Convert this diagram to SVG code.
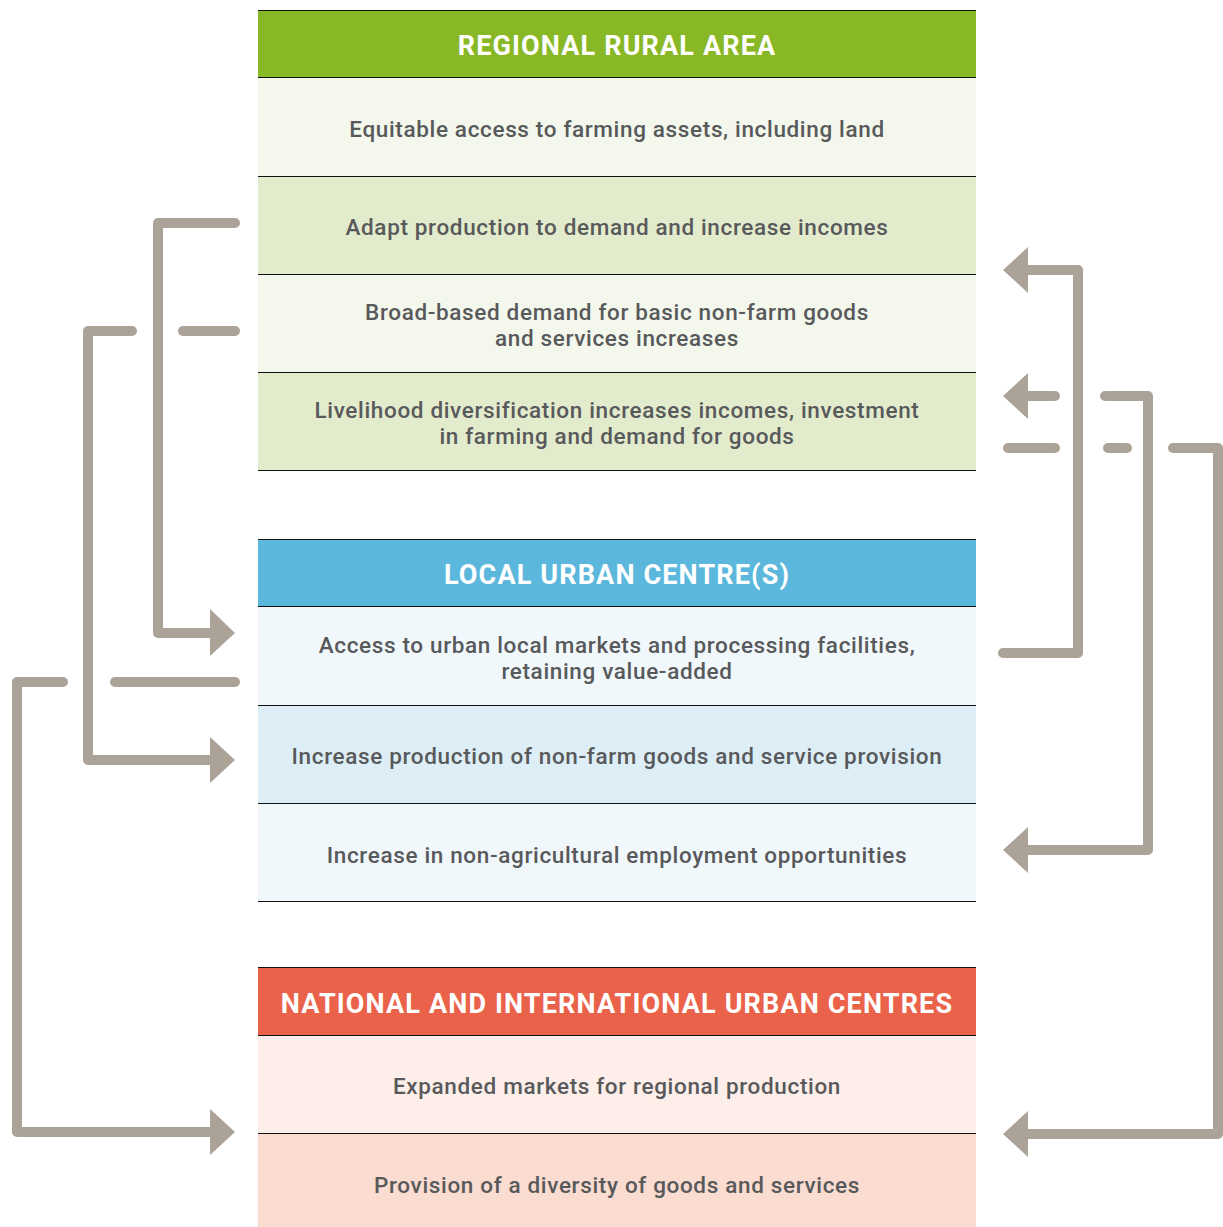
<svg xmlns="http://www.w3.org/2000/svg" width="1223" height="1227" viewBox="0 0 1223 1227">
<style>
.t{font-family:Roboto,"Liberation Sans",sans-serif;font-size:22.5px;font-weight:500;fill:#58595b;text-anchor:middle;dominant-baseline:central;letter-spacing:0.65px}
.h{font-family:Roboto,"Liberation Sans",sans-serif;font-size:27px;font-weight:bold;fill:#fff;text-anchor:middle;dominant-baseline:central;letter-spacing:1.15px}
.ln{stroke:#111;stroke-width:1}
.c{fill:none;stroke:#aca398;stroke-width:10;stroke-linecap:round;stroke-linejoin:round}
.ah{fill:#aca398}
</style>
<rect width="1223" height="1227" fill="#fff"/>
<g id="regional">
<rect x="258" y="10" width="718" height="67" fill="#89b827"/>
<rect x="258" y="77" width="718" height="99" fill="#f3f7ec"/>
<rect x="258" y="176" width="718" height="98" fill="#e3ebcd"/>
<rect x="258" y="274" width="718" height="98" fill="#f3f7ec"/>
<rect x="258" y="372" width="718" height="98" fill="#e3ebcd"/>
<line class="ln" x1="258" y1="10.5" x2="976" y2="10.5"/>
<line class="ln" x1="258" y1="77.5" x2="976" y2="77.5"/>
<line class="ln" x1="258" y1="176.5" x2="976" y2="176.5"/>
<line class="ln" x1="258" y1="274.5" x2="976" y2="274.5"/>
<line class="ln" x1="258" y1="372.5" x2="976" y2="372.5"/>
<line class="ln" x1="258" y1="470.5" x2="976" y2="470.5"/>
<text class="h" x="617" y="46">REGIONAL RURAL AREA</text>
<text class="t" x="617" y="129">Equitable access to farming assets, including land</text>
<text class="t" x="617" y="227">Adapt production to demand and increase incomes</text>
<text class="t" x="617" y="312">Broad-based demand for basic non-farm goods</text>
<text class="t" x="617" y="338">and services increases</text>
<text class="t" x="617" y="410">Livelihood diversification increases incomes, investment</text>
<text class="t" x="617" y="436">in farming and demand for goods</text>
</g>
<g id="local">
<rect x="258" y="539" width="718" height="67" fill="#5bb8dc"/>
<rect x="258" y="606" width="718" height="99" fill="#f1f8fc"/>
<rect x="258" y="705" width="718" height="98" fill="#ddeef6"/>
<rect x="258" y="803" width="718" height="98" fill="#f1f8fc"/>
<line class="ln" x1="258" y1="539.5" x2="976" y2="539.5"/>
<line class="ln" x1="258" y1="606.5" x2="976" y2="606.5"/>
<line class="ln" x1="258" y1="705.5" x2="976" y2="705.5"/>
<line class="ln" x1="258" y1="803.5" x2="976" y2="803.5"/>
<line class="ln" x1="258" y1="901.5" x2="976" y2="901.5"/>
<text class="h" x="617" y="575">LOCAL URBAN CENTRE(S)</text>
<text class="t" x="617" y="645">Access to urban local markets and processing facilities,</text>
<text class="t" x="617" y="671">retaining value-added</text>
<text class="t" x="617" y="756">Increase production of non-farm goods and service provision</text>
<text class="t" x="617" y="855">Increase in non-agricultural employment opportunities</text>
</g>
<g id="national">
<rect x="258" y="967" width="718" height="68" fill="#ea6249"/>
<rect x="258" y="1035" width="718" height="98" fill="#fdeeea"/>
<rect x="258" y="1133" width="718" height="94" fill="#fbdcd0"/>
<line class="ln" x1="258" y1="967.5" x2="976" y2="967.5"/>
<line class="ln" x1="258" y1="1035.5" x2="976" y2="1035.5"/>
<line class="ln" x1="258" y1="1133.5" x2="976" y2="1133.5"/>
<text class="h" x="617" y="1004">NATIONAL AND INTERNATIONAL URBAN CENTRES</text>
<text class="t" x="617" y="1086">Expanded markets for regional production</text>
<text class="t" x="617" y="1185">Provision of a diversity of goods and services</text>
</g>
<g id="connectors">
<path class="c" d="M235 223 H158 V633 H212"/>
<polygon class="ah" points="210,609 235,633 210,656"/>
<path class="c" d="M132 331 H88 V760 H212"/>
<polygon class="ah" points="210,737 235,760 210,783"/>
<path class="c" d="M183 331 H235"/>
<path class="c" d="M63 682 H17 V1132 H212"/>
<polygon class="ah" points="210,1109 235,1132 210,1155"/>
<path class="c" d="M115 682 H235"/>
<path class="c" d="M1003 653 H1078 V270 H1026"/>
<polygon class="ah" points="1028,247 1003,270 1028,293"/>
<path class="c" d="M1026 396 H1055"/>
<polygon class="ah" points="1028,373 1003,396 1028,419"/>
<path class="c" d="M1105 396 H1148 V850 H1026"/>
<polygon class="ah" points="1028,827 1003,850 1028,873"/>
<path class="c" d="M1008 448 H1055"/>
<path class="c" d="M1108 448 H1127"/>
<path class="c" d="M1173 448 H1218 V1134 H1026"/>
<polygon class="ah" points="1028,1111 1003,1134 1028,1157"/>
</g>
</svg>
